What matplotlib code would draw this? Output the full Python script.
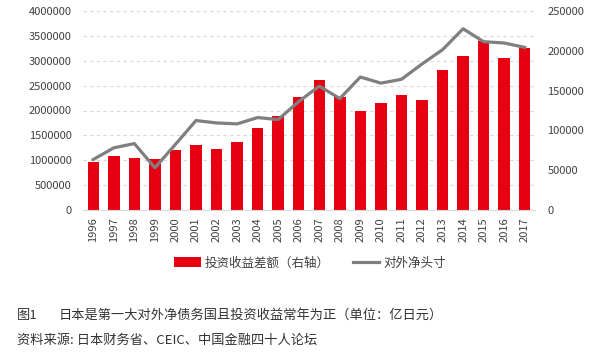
import numpy as np
import matplotlib.pyplot as plt
from matplotlib.ticker import FuncFormatter

plt.rcParams['font.family'] = ['Noto Sans CJK SC', 'DejaVu Sans']

# 数据（单位：亿日元）
years = ['1996', '1997', '1998', '1999', '2000', '2001', '2002', '2003', '2004', '2005', '2006',
         '2007', '2008', '2009', '2010', '2011', '2012', '2013', '2014', '2015', '2016', '2017']
income_balance = [60700, 68200, 65300, 63600, 75400, 81200, 77000, 85800, 103000, 117600, 141500,
                  163400, 142500, 124600, 134600, 145000, 138300, 176000, 194000, 212000, 191000, 204000]
net_position = [1015000, 1250000, 1335000, 848000, 1320000, 1798000, 1750000, 1731000, 1858000, 1818000, 2180000,
                2490000, 2240000, 2673000, 2550000, 2627000, 2935000, 3222000, 3643000, 3383000, 3357000, 3268000]

fig = plt.figure(figsize=(6.07, 3.62), dpi=100)
ax = fig.add_axes([83 / 607, 1 - 210 / 362, (535 - 83) / 607, (210 - 11) / 362])
ax2 = ax.twinx()

x = np.arange(len(years))
ax2.bar(x, income_balance, width=0.56, color='#E60012', label='投资收益差额（右轴）', zorder=2)
ax.plot(x, net_position, color='#7F7F7F', linewidth=2.3, label='对外净头寸', zorder=3)

# 折线画在柱子上面
ax.set_zorder(ax2.get_zorder() + 1)
ax.patch.set_visible(False)

ax.set_ylim(0, 4000000)
ax.set_yticks(np.arange(0, 4000001, 500000))
ax2.set_ylim(0, 250000)
ax2.set_yticks(np.arange(0, 250001, 50000))
plain = FuncFormatter(lambda v, p: f'{int(v)}')
ax.yaxis.set_major_formatter(plain)
ax2.yaxis.set_major_formatter(plain)
ax.set_xlim(-0.5, len(years) - 0.5)
ax.set_xticks(x)
ax.set_xticklabels(years, rotation=90)

for yv in np.arange(500000, 4000001, 500000):
    ax2.axhline(yv / 16, color='#D9D9D9', linewidth=0.8, linestyle=(0, (3, 3)), zorder=1)

for a in (ax, ax2):
    for s in a.spines.values():
        s.set_visible(False)
    a.tick_params(length=0, labelsize=8, colors='#404040')
ax2.spines['bottom'].set_visible(True)
ax2.spines['bottom'].set_color('#D9D9D9')
ax.tick_params(axis='y', pad=8)
ax2.tick_params(axis='y', pad=9)
ax.tick_params(axis='x', pad=5)

h1, l1 = ax2.get_legend_handles_labels()
h2, l2 = ax.get_legend_handles_labels()
fig.legend(h1 + h2, l1 + l2, loc='center', bbox_to_anchor=(310 / 607, 1 - 263 / 362), ncol=2,
           frameon=False, fontsize=9, handlelength=2.1, handleheight=0.8, handletextpad=0.3,
           columnspacing=1.9, labelcolor='#404040')

fig.text(17 / 607, 1 - 315 / 362, '图1', fontsize=9.5, color='#333333', va='center')
fig.text(59 / 607, 1 - 315 / 362, '日本是第一大对外净债务国且投资收益常年为正（单位：亿日元）',
         fontsize=9.5, color='#333333', va='center')
fig.text(17 / 607, 1 - 340 / 362, '资料来源: 日本财务省、CEIC、中国金融四十人论坛',
         fontsize=9.5, color='#333333', va='center')

fig.savefig('out.png', dpi=100)
